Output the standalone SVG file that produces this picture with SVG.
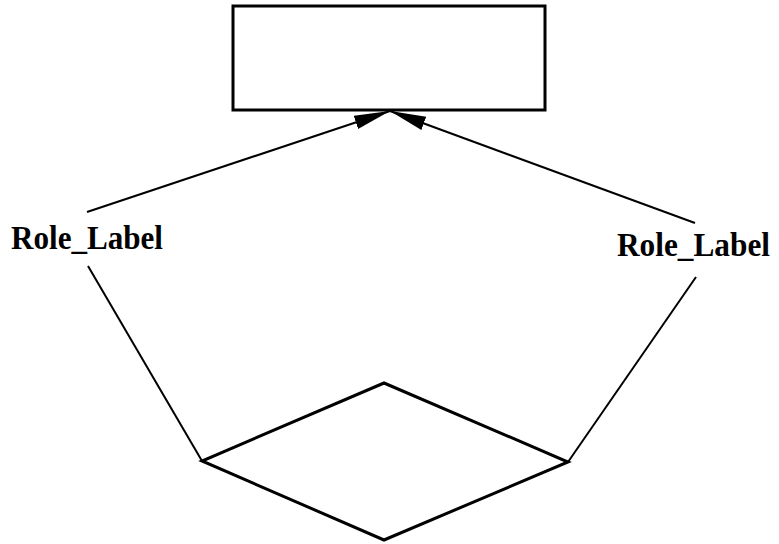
<svg xmlns="http://www.w3.org/2000/svg" width="779" height="544" viewBox="0 0 779 544">
<defs>
<style>
.edge{stroke:#000;stroke-width:2;fill:none}
.shape{stroke:#000;stroke-width:3;fill:#fff}
.lbl{font-family:"Liberation Serif","Times New Roman",serif;font-weight:bold;font-size:33px;fill:#000}
</style>
<marker id="ah" markerUnits="userSpaceOnUse" markerWidth="40" markerHeight="18" refX="36" refY="8" orient="auto">
<path d="M0,1 L36,8 L0,15 Z" fill="#000"/>
</marker>
</defs>
<rect width="779" height="544" fill="#fff"/>
<g id="entity">
<rect class="shape" x="233" y="6" width="312" height="104"/>
</g>
<g id="relationship">
<polygon class="shape" points="384,383 568,462 384,540 202,461"/>
</g>
<g id="connectors">
<line class="edge" x1="87" y1="212" x2="390" y2="111" marker-end="url(#ah)"/>
<line class="edge" x1="695" y1="223" x2="390" y2="111" marker-end="url(#ah)"/>
<line class="edge" x1="88" y1="266" x2="202" y2="461"/>
<line class="edge" x1="696" y1="277" x2="568" y2="462"/>
</g>
<g id="labels">
<text class="lbl" x="11" y="249" textLength="152" lengthAdjust="spacingAndGlyphs">Role_Label</text>
<text class="lbl" x="617" y="256" textLength="153" lengthAdjust="spacingAndGlyphs">Role_Label</text>
</g>
</svg>
